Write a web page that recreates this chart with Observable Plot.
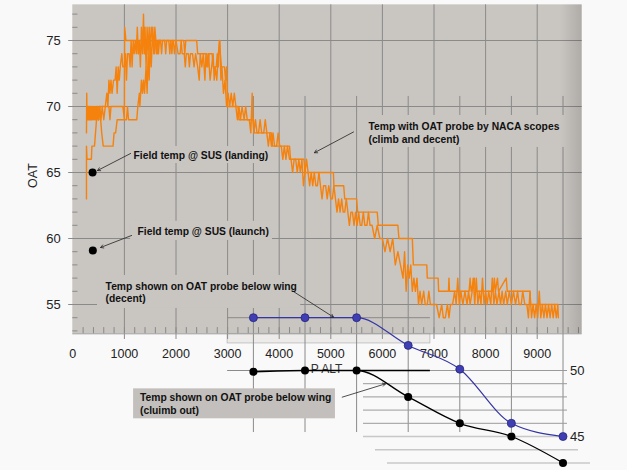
<!DOCTYPE html>
<html><head><meta charset="utf-8">
<script src="https://cdn.jsdelivr.net/npm/d3@7"></script>
<script src="https://cdn.jsdelivr.net/npm/@observablehq/plot@0.6"></script>
<style>
html,body{margin:0;padding:0;background:#f9f9f9;}
#chart{width:627px;height:470px;overflow:hidden;}
</style></head><body><div id="chart"></div>
<script>
// ---- tick labels ----
const xTicks = [0,1000,2000,3000,4000,5000,6000,7000,8000,9000];
const yTicks = [55,60,65,70,75];
const rightTicks = [50,45];

// ---- probe-below-wing series (P ALT vs OAT) ----
const probeAlt = [3500,4500,5500,6500,7500,8500,9500];
const probeDescent = [54,54,54,51.9,50.1,46,45];
const probeClimb = [49.9,50,50,48,46,45,43];

// ---- field temperatures at SUS ----
const fieldAlt = [383,388];
const fieldOat = [65,59.1];

// ---- NACA-scoop OAT traces [P ALT, OAT] ----
const traceA = [[265,68],[270,71],[276,69],[282,70],[288,69],[294,70],[300,69],[308,70],[316,69],[324,70],[332,69],[340,70],[350,69],[360,70],[370,69],[380,70],[392,69],[404,70],[416,69],[428,70],[440,69],[455,70],[470,69],[485,70],[500,69],[520,70],[545,69],[570,70],[600,69],[630,70],[660,71],[680,70],[700,72],[720,71],[740,72],[760,71],[790,72],[820,72],[840,73],[860,71],[880,73],[900,72],[920,73],[950,74],[970,73],[1000,73],[1020,74],[1040,72],[1060,74],[1090,74],[1110,73],[1130,75],[1150,73],[1170,75],[1190,74],[1210,75],[1230,74],[1250,76],[1270,74],[1290,75],[1310,73],[1330,76],[1350,74],[1370,77],[1385,74],[1400,76],[1420,73],[1440,76],[1460,74],[1480,76],[1500,74],[1520,76],[1550,75],[1580,74],[1600,75],[1640,75],[1660,74],[1680,75],[1700,75],[1720,74],[1740,75],[1780,75],[1800,74],[1820,75],[1860,75],[1880,74],[1900,75],[1950,75],[1970,74],[2000,75],[2040,74],[2080,74],[2100,75],[2120,74],[2160,74],[2180,73],[2200,74],[2240,74],[2260,73],[2280,74],[2320,74],[2350,73],[2380,74],[2420,73],[2450,72],[2470,74],[2500,73],[2530,74],[2560,72],[2580,74],[2600,73],[2630,74],[2660,72],[2690,73],[2720,74],[2740,72],[2760,73],[2790,72],[2820,74],[2850,75],[2870,72],[2890,73],[2920,71],[2950,72],[2980,70],[3010,71],[3040,70],[3070,71],[3100,70],[3130,71],[3160,70],[3190,69],[3220,70],[3250,69],[3280,70],[3320,69],[3350,70],[3380,69],[3420,69],[3450,68],[3476,71],[3490,69],[3510,68],[3540,69],[3570,68],[3600,68],[3630,69],[3660,68],[3700,68],[3730,69],[3760,68],[3790,67],[3820,68],[3850,67],[3880,68],[3910,67],[3950,67],[3980,68],[4010,67],[4040,67],[4070,66],[4100,67],[4130,66],[4160,67],[4200,66],[4230,66],[4260,65],[4290,66],[4320,66],[4350,65],[4380,66],[4410,65],[4440,66],[4470,64],[4500,65],[4530,66],[4560,65],[4590,64],[4620,65],[4650,64],[4680,65],[4710,64],[4740,64],[4770,65],[4800,64],[4830,63],[4860,64],[4900,64],[4930,63],[4960,64],[5000,63],[5030,63],[5060,64],[5090,63],[5120,62],[5150,63],[5180,62],[5210,63],[5240,62],[5270,62],[5300,63],[5330,62],[5360,61],[5390,62],[5420,62],[5450,61],[5480,62],[5510,61],[5540,62],[5570,61],[5600,61],[5630,62],[5660,61],[5700,61],[5730,62],[5760,61],[5800,61],[5850,60],[5900,61],[5950,60],[6000,60],[6050,59],[6100,60],[6150,59],[6200,60],[6250,58],[6300,59],[6350,58],[6400,57],[6430,59],[6460,56],[6490,58],[6520,57],[6550,58],[6580,56],[6610,57],[6640,56],[6670,57],[6700,55],[6730,56],[6760,55],[6800,56],[6830,55],[6870,55],[6900,56],[6930,55],[6960,55],[7000,55],[7050,55],[7100,54],[7150,55],[7180,54],[7220,54],[7260,55],[7290,54],[7320,55],[7360,55],[7400,56],[7430,55],[7460,57],[7490,55],[7520,56],[7560,55],[7600,56],[7640,55],[7670,56],[7700,55],[7740,56],[7760,57],[7790,55],[7820,57],[7850,55],[7880,56],[7910,55],[7940,57],[7970,55],[8000,56],[8030,55],[8060,56],[8100,55],[8130,57],[8160,55],[8190,56],[8220,55],[8260,56],[8290,55],[8320,56],[8350,55],[8390,56],[8420,55],[8460,56],[8500,55],[8540,56],[8580,55],[8620,56],[8650,55],[8690,55],[8720,56],[8760,55],[8800,55],[8830,54],[8860,56],[8890,54],[8920,55],[8950,54],[8980,55],[9010,54],[9040,56],[9070,54],[9100,55],[9130,54],[9160,55],[9190,54],[9220,55],[9250,54],[9280,55],[9310,54],[9340,55],[9370,54],[9400,55],[9410,54]];

const traceB = [[500,69],[520,70],[700,70],[720,69],[740,70],[970,70],[1000,69],[1005,76],[1030,75],[1250,75],[1270,74],[1290,75],[1380,75],[1400,74],[1420,75],[1600,75],[1620,74],[1640,75],[1900,75],[1920,74],[1940,75],[2150,75],[2170,74],[2190,75],[2400,75],[2420,74],[2600,74],[2620,73],[2640,74],[2700,74],[2720,73],[2780,73],[2800,74],[2820,73],[2840,75],[2860,74],[2880,73],[2940,73],[2960,72],[2980,73],[3000,70],[3200,70],[3220,69],[3500,69],[3520,68],[3850,68],[3870,67],[4200,67],[4220,66],[4480,66],[4500,65],[5050,65],[5060,64],[5250,64],[5270,63],[5500,63],[5520,62],[5900,62],[5920,61],[6300,61],[6320,60],[6580,60],[6600,58],[6860,58],[6870,57],[7080,57],[7090,56],[7280,56],[7290,57],[7300,56],[7680,56],[7700,57],[7720,56],[7780,57],[7800,56],[8150,56],[8170,57],[8190,56],[8230,57],[8250,56],[8400,57],[8420,56],[8860,56],[8870,55],[9400,55]];

const traceC = [[265,63],[265,67],[275,66],[300,66],[330,66],[360,66],[370,67],[420,67],[440,68],[460,69],[480,70],[500,69],[520,70],[540,69],[560,68],[590,67],[620,67],[700,67],[780,67],[800,68],[830,68],[860,69],[900,69],[960,69],[1000,69],[1040,69],[1060,70],[1080,69],[1120,69],[1160,69],[1200,69],[1240,69],[1260,70],[1290,71],[1300,70],[1330,72],[1350,71],[1370,72],[1390,71],[1420,73],[1440,71],[1460,74],[1480,72],[1500,75],[1520,73],[1550,76],[1570,74],[1590,76],[1610,75],[1640,74],[1660,75],[1700,75]];

// ---- annotation layout (data coordinates) ----
const plotFrame = [{x1:0, x2:9872, y1:52.78, y2:77.7}];
const insetStrip = [{x1:3000, x2:6930, y1:52.05, y2:52.78}];
const edgeShade = [{x1:9450, x2:9872, y1:52.78, y2:77.7}];
const labelBoxes = [
  {x1:1120, x2:3870, y1:65.68, y2:66.97},
  {x1:1120, x2:3870, y1:59.85, y2:61.3},
  {x1:5576, x2:9760, y1:66.9, y2:69.32},
  {x1:479, x2:4417, y1:54.7, y2:57.2}
];
const climbBox = [{x1:1178, x2:5090, y1:46.34, y2:48.61}];
const notes = [
  {x:1177, y:66.36, text:"Field temp @ SUS (landing)"},
  {x:1254, y:60.6, text:"Field temp @ SUS (launch)"},
  {x:5730, y:68.03, text:"Temp with OAT probe by NACA scopes\n(climb and decent)"},
  {x:636, y:55.92, text:"Temp shown on OAT probe below wing\n(decent)"},
  {x:1302, y:47.5, text:"Temp shown on OAT probe below wing\n(cluimb out)"}
];
const noteArrows = [
  {x1:1120, y1:66.44, x2:479, y2:65.15},
  {x1:1140, y1:60.23, x2:539, y2:59.32},
  {x1:5440, y1:68.07, x2:4684, y2:66.5},
  {x1:4277, y1:55.98, x2:5052, y2:54.04},
  {x1:5221, y1:47.98, x2:6060, y2:48.99}
];

const GRID = "#8a8a8a";
const FONT = "'Liberation Sans', Arial, sans-serif";
const minorY = d3.range(53, 78);
const minorX = d3.range(200, 9872, 200);

const svg = Plot.plot({
  width: 627, height: 470, margin: 0,
  style: {background: "transparent", fontFamily: FONT, overflow: "visible"},
  x: {axis: null, domain: [0, 10000], range: [72.3, 588.3]},
  y: {axis: null, domain: [40, 80], range: [502, -26]},
  marks: [
    Plot.rect(plotFrame, {x1:"x1", x2:"x2", y1:"y1", y2:"y2", fill:"#c9c5c1"}),
    Plot.rect(insetStrip, {x1:"x1", x2:"x2", y1:"y1", y2:"y2", fill:"#ecebe9", stroke:"#b8b8b8", strokeWidth:0.8}),
    // main grid
    Plot.ruleY(yTicks, {x1:-80, x2:9872, stroke:GRID, strokeWidth:1}),
    Plot.ruleX(xTicks.slice(1), {y1:52.35, y2:77.7, stroke:GRID, strokeWidth:1}),
    Plot.ruleY(minorY, {x1:0, x2:100, stroke:GRID, strokeWidth:1}),
    Plot.ruleX(minorX, {y1:52.78, y2:53.25, stroke:GRID, strokeWidth:1}),
    // overlay chart grid
    Plot.ruleX(probeAlt, {y1:45.3, y2:70.76, stroke:GRID, strokeWidth:1}),
    Plot.ruleY([54, 50], {x1:3000, x2:6930, stroke:GRID, strokeWidth:1}),
    Plot.ruleY([50,49,48,47,46], {x1:5634, x2:9587, stroke:"#9a9a9a", strokeWidth:1}),
    Plot.ruleY([45], {x1:5634, x2:9510, stroke:"#c8c8c8", strokeWidth:1.5}),
    Plot.ruleY([44], {x1:5866, x2:9800, stroke:"#c8c8c8", strokeWidth:1.5}),
    Plot.ruleY([43], {x1:6099, x2:10033, stroke:"#c8c8c8", strokeWidth:1.5}),
    Plot.ruleY([52.78], {x1:0, x2:9872, stroke:"#9a9a9a", strokeWidth:1}),
    // label backgrounds
    Plot.rect(labelBoxes, {x1:"x1", x2:"x2", y1:"y1", y2:"y2", fill:"#c9c5c1"}),
    Plot.rect(climbBox, {x1:"x1", x2:"x2", y1:"y1", y2:"y2", fill:"#c2bfbc"}),
    Plot.rect(edgeShade, {x1:"x1", x2:"x2", y1:"y1", y2:"y2", fill:"url(#edgeShade)"}),
    // orange traces
    Plot.line(traceA, {x:d=>d[0], y:d=>d[1], stroke:"#f5820d", strokeWidth:1.4}),
    Plot.line(traceB, {x:d=>d[0], y:d=>d[1], stroke:"#f5820d", strokeWidth:1.4}),
    Plot.line(traceC, {x:d=>d[0], y:d=>d[1], stroke:"#f5820d", strokeWidth:1.4}),
    // axis text
    Plot.text(xTicks, {x:d=>d, y:52.78, dy:20.5, text:d=>String(d), fontSize:12.5, fill:"#222"}),
    Plot.text(yTicks, {x:0, y:d=>d, dx:-12, textAnchor:"end", text:d=>String(d), fontSize:13, fill:"#222"}),
    Plot.text(rightTicks, {x:9500, y:d=>d, dx:7, textAnchor:"start", text:d=>String(d), fontSize:13, fill:"#222"}),
    Plot.text(["OAT"], {x:-762, y:64.77, text:d=>d, rotate:-90, fontSize:12.5, fill:"#222"}),
    Plot.text(["P ALT"], {x:4917, y:50.1, text:d=>d, fontSize:12, fill:"#333"}),
    // probe lines
    Plot.ruleY([50], {x1:5500, x2:6930, stroke:"#000", strokeWidth:1.3}),
    Plot.line(probeAlt, {x:d=>d, y:(d,i)=>probeDescent[i], curve:"monotone-x", stroke:"#3535a5", strokeWidth:1.2}),
    Plot.line(probeAlt, {x:d=>d, y:(d,i)=>probeClimb[i], curve:"monotone-x", stroke:"#000", strokeWidth:1.3}),
    Plot.dot(probeAlt, {x:d=>d, y:(d,i)=>probeDescent[i], r:4, fill:"#3f3fb3", stroke:"#24247e", strokeWidth:0.8}),
    Plot.dot(probeAlt, {x:d=>d, y:(d,i)=>probeClimb[i], r:4, fill:"#000"}),
    Plot.dot(fieldAlt, {x:d=>d, y:(d,i)=>fieldOat[i], r:4, fill:"#000"}),
    // annotations
    Plot.arrow(noteArrows, {x1:"x1", y1:"y1", x2:"x2", y2:"y2", stroke:"#222", strokeWidth:0.8, headLength:6}),
    Plot.text(notes, {x:"x", y:"y", text:"text", textAnchor:"start", lineAnchor:"middle", lineHeight:1.2, fontSize:10.3, fontWeight:"bold", fill:"#111"})
  ]
});

const defs = d3.select(svg).insert("defs", ":first-child");
const grad = defs.append("linearGradient").attr("id","edgeShade").attr("x1",0).attr("x2",1).attr("y1",0).attr("y2",0);
grad.append("stop").attr("offset",0).attr("stop-color","#000").attr("stop-opacity",0);
grad.append("stop").attr("offset",1).attr("stop-color","#000").attr("stop-opacity",0.13);

document.getElementById("chart").appendChild(svg);
</script>
</body></html>
